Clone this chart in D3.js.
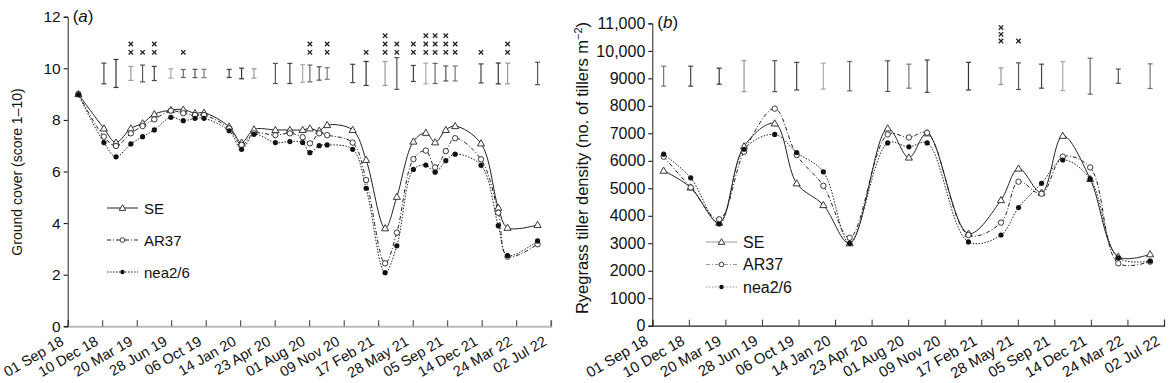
<!DOCTYPE html>
<html><head><meta charset="utf-8">
<script src="https://cdn.jsdelivr.net/npm/d3@7"></script>
<style>
body{margin:0;background:#fff;}
svg text{font-family:"Liberation Sans",Arial,sans-serif;fill:#111;}
</style></head>
<body><svg id="c" width="1173" height="383"></svg>
<script>
// ---------- data ----------
const tickDates = ["2018-09-01","2018-12-10","2019-03-20","2019-06-28","2019-10-06","2020-01-14","2020-04-23","2020-08-01","2020-11-09","2021-02-17","2021-05-28","2021-09-05","2021-12-14","2022-03-24","2022-07-02"];
const tickLabels = ["01 Sep 18","10 Dec 18","20 Mar 19","28 Jun 19","06 Oct 19","14 Jan 20","23 Apr 20","01 Aug 20","09 Nov 20","17 Feb 21","28 May 21","05 Sep 21","14 Dec 21","24 Mar 22","02 Jul 22"];
const seriesNames = ["SE","AR37","nea2/6"];

// panel (a) ground cover
const datesA = ["2018-10-02","2018-12-15","2019-01-19","2019-03-03","2019-04-06","2019-05-10","2019-06-27","2019-08-02","2019-09-05","2019-10-01","2019-12-13","2020-01-18","2020-02-23","2020-04-25","2020-06-06","2020-07-13","2020-08-03","2020-08-30","2020-09-22","2020-12-05","2021-01-13","2021-03-09","2021-04-12","2021-05-30","2021-07-05","2021-08-01","2021-09-01","2021-09-28","2021-12-12","2022-01-31","2022-02-27","2022-05-25"];
const seA  = [9.0,7.67,7.12,7.67,7.87,8.22,8.38,8.40,8.26,8.28,7.74,7.12,7.63,7.61,7.61,7.61,7.67,7.58,7.80,7.61,6.45,3.80,5.02,7.16,7.50,7.13,7.61,7.76,7.09,4.60,3.82,3.93];
const arA  = [9.0,7.35,6.99,7.48,7.76,8.02,8.36,8.26,8.19,8.19,7.67,7.03,7.48,7.41,7.48,7.33,7.09,7.48,7.41,7.12,5.67,2.44,3.63,6.48,6.81,6.16,6.79,7.29,6.47,4.40,2.70,3.18];
const neaA = [8.98,7.12,6.57,7.07,7.35,7.61,8.10,7.97,8.06,8.06,7.58,6.86,7.44,7.12,7.16,7.12,6.73,7.00,7.03,6.86,5.35,2.08,3.12,6.08,6.25,5.97,6.42,6.67,6.24,3.90,2.74,3.31];
const lsdA = [null,0.80,1.085,0.54,0.65,0.55,0.36,0.31,0.32,0.32,0.31,0.41,0.36,0.78,0.78,0.68,0.65,0.52,0.45,0.71,0.93,0.93,1.23,0.62,0.80,0.78,0.58,0.58,0.74,0.81,0.80,0.87];
const starsA = [0,0,0,2,1,2,0,1,0,0,0,0,0,0,0,0,2,0,2,0,1,3,2,2,3,3,3,2,1,0,2,0];
const yTicksA = [0,2,4,6,8,10,12];

// panel (b) tiller density
const datesB = ["2018-10-02","2018-12-15","2019-03-03","2019-05-10","2019-08-02","2019-10-01","2019-12-13","2020-02-23","2020-06-06","2020-08-03","2020-09-22","2021-01-13","2021-04-12","2021-05-30","2021-08-01","2021-09-28","2021-12-12","2022-02-27","2022-05-25"];
const seB  = [5640,5030,3750,6530,7360,5180,4390,3000,7180,6120,7000,3350,4570,5720,4840,6910,5340,2510,2600];
const arB  = [6150,5030,3870,6330,7900,6210,5090,3200,6960,6850,7020,3300,3750,5240,4800,6150,5760,2270,2330];
const neaB = [6240,5380,3700,6420,6960,6300,5600,3000,6650,6510,6650,3050,3300,4300,5180,6030,5340,2470,2350];
const lsdB = [728,728,582,1128,1128,1006,946,1067,1116,873,1176,1006,606,970,873,1055,1310,521,897];
const starsB = [0,0,0,0,0,0,0,0,0,0,0,0,3,1,0,0,0,0,0];
const yTicksB = [0,1000,2000,3000,4000,5000,6000,7000,8000,9000,10000,11000];

// ---------- drawing ----------
const svg = d3.select("#c");
const parse = d3.utcParse("%Y-%m-%d");
const tDates = tickDates.map(parse);
const dashes = ["none","4,2,1,2","1.5,1.5"];
const ebShades = ["#777","#444","#333","#999","#555","#444","#aaa","#666","#555"];

function panel(o){
  const g = svg.append("g");
  const x = d3.scaleUtc().domain([tDates[0], tDates[tDates.length-1]]).range([o.x0, o.x1]);
  const y = d3.scaleLinear().domain([0, o.ymax]).range([o.y0, o.y1]);
  // x axis
  const xa = g.append("g").attr("transform",`translate(0,${o.y0})`)
    .call(d3.axisTop(x).tickValues(tDates).tickSize(6).tickFormat(""));
  xa.select(".domain").attr("stroke",o.xAxisColor).attr("stroke-width",o.xAxisWidth);
  xa.selectAll(".tick line").attr("stroke","#333");
  g.selectAll(".xl").data(tDates).join("text")
    .attr("transform",(d)=>`translate(${x(d)-3},${o.y0+18}) rotate(-30)`)
    .attr("text-anchor","end").attr("font-size",o.xFont)
    .text((d,i)=>tickLabels[i]);
  // y axis
  const ya = g.append("g").attr("transform",`translate(${o.x0},0)`)
    .call(d3.axisLeft(y).tickValues(o.yTicks).tickSize(4).tickPadding(3).tickFormat(o.fmt));
  ya.select(".domain").attr("stroke","#222");
  ya.selectAll("text").attr("font-size",o.yFont).attr("font-family","Liberation Sans, Arial, sans-serif").attr("fill","#111");
  // title
  const tt = g.append("text").attr("transform",`translate(${o.titleX},${o.titleY}) rotate(-90)`)
    .attr("text-anchor","middle").attr("font-size",o.titleFont);
  o.title(tt);
  // panel label
  const pl = g.append("text").attr("x",o.x0+5).attr("y",o.y1+5).attr("font-size",17);
  pl.append("tspan").text("(");
  pl.append("tspan").attr("font-style","italic").text(o.label);
  pl.append("tspan").text(")");
  // error bars
  const dates = o.dates.map(parse);
  const eb = g.append("g").attr("stroke-width",1.2);
  o.lsd.forEach((v,i)=>{
    if(v==null) return;
    const c = ebShades[i % ebShades.length];
    const xx = x(dates[i]), t = y(o.ebCenter+v/2), b = y(o.ebCenter-v/2);
    eb.append("line").attr("x1",xx).attr("x2",xx).attr("y1",t).attr("y2",b).attr("stroke",c);
    eb.append("line").attr("x1",xx-2.5).attr("x2",xx+2.5).attr("y1",t).attr("y2",t).attr("stroke",c);
    eb.append("line").attr("x1",xx-2.5).attr("x2",xx+2.5).attr("y1",b).attr("y2",b).attr("stroke",c);
  });
  // stars
  const st = g.append("g").attr("stroke","#222").attr("stroke-width",1.3);
  o.stars.forEach((n,i)=>{
    for(let k=0;k<n;k++){
      const xx = x(dates[i]), yy = y(o.starBase) - k*o.starGap;
      st.append("line").attr("x1",xx-2.2).attr("x2",xx+2.2).attr("y1",yy-2.2).attr("y2",yy+2.2);
      st.append("line").attr("x1",xx-2.2).attr("x2",xx+2.2).attr("y1",yy+2.2).attr("y2",yy-2.2);
    }
  });
  // lines
  const line = d3.line().x(d=>x(d[0])).y(d=>y(d[1])).curve(d3.curveCatmullRom.alpha(0.5));
  const series = o.series;
  series.forEach((vals,s)=>{
    const pts = dates.map((d,i)=>[d,vals[i]]);
    g.append("path").attr("d",line(pts)).attr("fill","none").attr("stroke","#222")
      .attr("stroke-width",1).attr("stroke-dasharray",dashes[s]);
  });
  series.forEach((vals,s)=>{
    dates.forEach((d,i)=>marker(g,s,x(d),y(vals[i])));
  });
  // legend
  seriesNames.forEach((nm,s)=>{
    const ly = o.legY + s*o.legGap;
    g.append("line").attr("x1",o.legX).attr("x2",o.legX+31).attr("y1",ly).attr("y2",ly)
      .attr("stroke",o.legColor).attr("stroke-width",1).attr("stroke-dasharray",dashes[s]);
    marker(g,s,o.legX+15.5,ly,0.85);
    g.append("text").attr("x",o.legX+37).attr("y",ly+5.5).attr("font-size",o.legFont).text(nm);
  });
}
function marker(g,s,cx,cy,sc=1){
  if(s===0){
    g.append("path").attr("d",d3.symbol(d3.symbolTriangle,22*sc)()).attr("transform",`translate(${cx},${cy+0.5})`)
      .attr("fill","#fff").attr("stroke","#222").attr("stroke-width",0.9);
  } else if(s===1){
    g.append("circle").attr("cx",cx).attr("cy",cy).attr("r",2.7*sc).attr("fill","#fff").attr("stroke","#222").attr("stroke-width",0.9);
  } else {
    g.append("circle").attr("cx",cx).attr("cy",cy).attr("r",2.6*sc).attr("fill","#111");
  }
}

panel({x0:67.7,x1:550.7,y0:326.3,y1:16.7,ymax:12,yTicks:yTicksA,fmt:d3.format("d"),
  xAxisColor:"#bbb",xAxisWidth:2,label:"a",dates:datesA,series:[seA,arA,neaA],lsd:lsdA,stars:starsA,
  ebCenter:9.8,starBase:10.62,starGap:8.3,legX:107,legY:208,legGap:32,legFont:15,legColor:"#222",
  xFont:14.5,yFont:15.5,titleFont:14,
  titleX:22,titleY:172,title:t=>t.text("Ground cover (score 1–10)")});
panel({x0:652.3,x1:1164,y0:325.7,y1:23.4,ymax:11000,yTicks:yTicksB,fmt:d=>d>=10000?d3.format(",")(d):String(d),
  xAxisColor:"#222",xAxisWidth:1.2,label:"b",dates:datesB,series:[seB,arB,neaB],lsd:lsdB,stars:starsB,
  ebCenter:9080,starBase:10360,starGap:6.7,legX:706,legY:242,legGap:22.5,legFont:16,legColor:"#999",
  xFont:15,yFont:16,titleFont:16.5,
  titleX:588,titleY:168,title:t=>{t.append("tspan").text("Ryegrass tiller density (no. of tillers m");
    t.append("tspan").attr("font-size",11).attr("dy",-6).text("−2");
    t.append("tspan").attr("dy",6).text(")");}});
</script></body></html>
